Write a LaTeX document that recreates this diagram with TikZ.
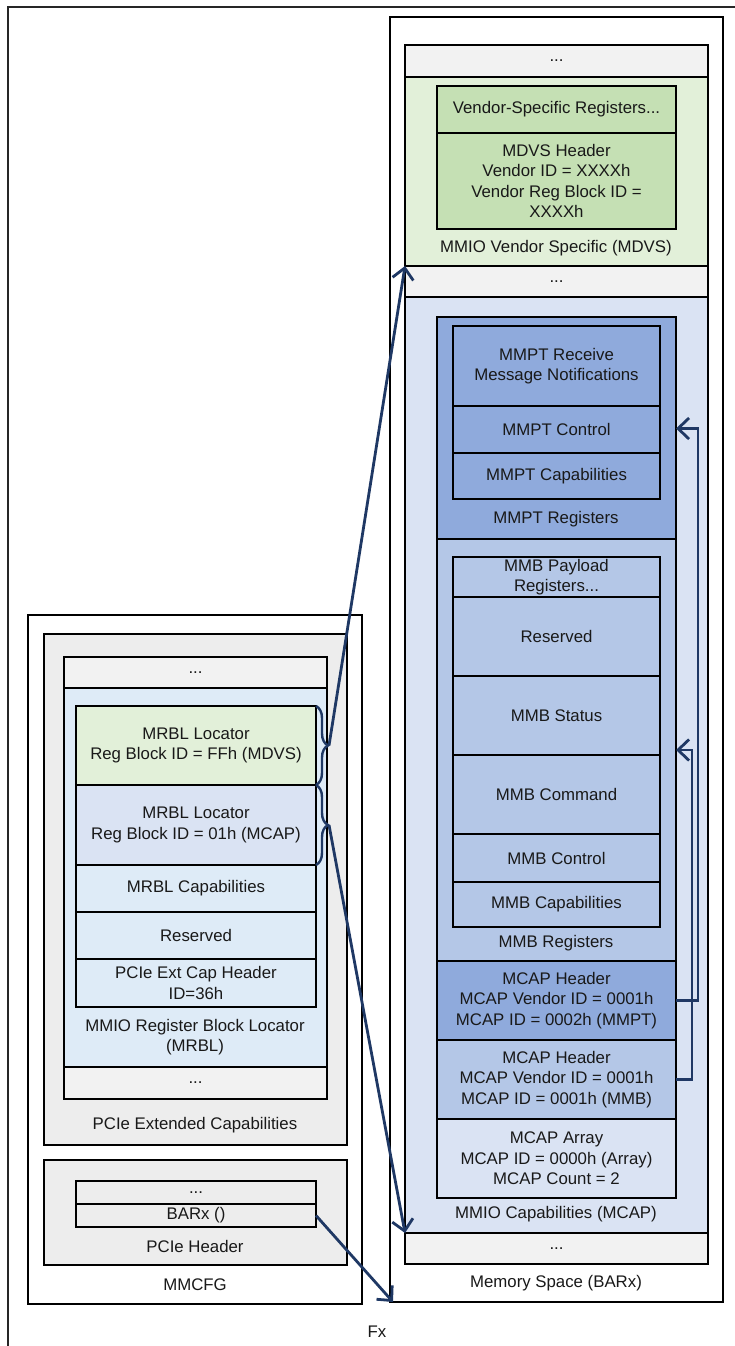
\documentclass[tikz,border=0pt]{standalone}
\usepackage{fontspec}
\setmainfont{Liberation Sans}
\usetikzlibrary{arrows.meta,calc,decorations.pathreplacing}
\definecolor{cdots}{HTML}{F2F2F2}
\definecolor{cext}{HTML}{EDEDED}
\definecolor{cgl}{HTML}{E2F0D9}
\definecolor{cg}{HTML}{C5E0B4}
\definecolor{cmcap}{HTML}{DAE3F3}
\definecolor{cmmpt}{HTML}{8FAADC}
\definecolor{cmmb}{HTML}{B4C7E7}
\definecolor{cmrbl}{HTML}{DEEBF7}
\definecolor{navy}{HTML}{1F3864}
\newcommand\fs{\fontsize{16.8}{20.5}\selectfont}
\newcommand\bx[7]{\node[box,#2,minimum width={(#5)-(#3)},minimum height={(#6)-(#4)}] (#1) at ({((#3)+(#5))/2},{-((#4)+(#6))/2}) {#7};}
\tikzset{
  box/.style={draw=black,line width=1.8pt,rectangle,inner sep=0pt,outer sep=0pt,align=center,font=\fs,text=black!90},
  lbl/.style={inner sep=0pt,align=center,font=\fs,text=black!90},
  conn/.style={draw=navy,line width=2.8pt,-{Straight Barb[length=11pt,width=21pt,line width=2.8pt]}},
  bracestyle/.style={draw=navy,line width=2.4pt,decorate,decoration={brace,amplitude=12pt}}
}
\begin{document}
\begin{tikzpicture}[x=1pt,y=1pt]
\useasboundingbox (0,0) rectangle (735,-1346);
% Fx frame
\draw[line width=1.6pt,black!85] (8,-1350) coordinate (fxa) -- (8,-7) coordinate (fxb) -- (740,-7) coordinate (fxc);
\node[lbl] (fx) at (377,-1332) {Fx};

% Memory space
\bx{memspace}{fill=white}{390}{17}{723}{1302}{}
\node[lbl] (memlbl) at (556,-1283) {Memory Space (BARx)};
\bx{topdots}{fill=cdots}{405}{45}{708}{77}{...}
\bx{mdvs}{fill=cgl}{405}{77}{708}{266}{}
\node[lbl] (mdvslbl) at (556,-248) {MMIO Vendor Specific (MDVS)};
\bx{vsr}{fill=cg}{437}{86}{676}{133}{Vendor-Specific Registers...}
\bx{mdvshdr}{fill=cg}{437}{133}{676}{229}{MDVS Header\\Vendor ID = XXXXh\\Vendor Reg Block ID =\\XXXXh}
\bx{dots2}{fill=cdots}{405}{266}{708}{297}{...}
\bx{mcap}{fill=cmcap}{405}{297}{708}{1233}{}
\node[lbl] (mcaplbl) at (556,-1214) {MMIO Capabilities (MCAP)};
\bx{mmpt}{fill=cmmpt}{437}{317}{676}{539}{}
\node[lbl] (mmptlbl) at (556,-519) {MMPT Registers};
\bx{mmptrx}{fill=cmmpt}{453}{326}{660}{406}{MMPT Receive\\Message Notifications}
\bx{mmptctl}{fill=cmmpt}{453}{406}{660}{453}{MMPT Control}
\bx{mmptcap}{fill=cmmpt}{453}{453}{660}{499}{MMPT Capabilities}
\bx{mmb}{fill=cmmb}{437}{539}{676}{961}{}
\node[lbl] (mmblbl) at (556,-943) {MMB Registers};
\bx{mmbpay}{fill=cmmb}{453}{557}{660}{597}{MMB Payload\\Registers...}
\bx{mmbres}{fill=cmmb}{453}{597}{660}{676}{Reserved}
\bx{mmbsts}{fill=cmmb}{453}{676}{660}{755}{MMB Status}
\bx{mmbcmd}{fill=cmmb}{453}{755}{660}{834}{MMB Command}
\bx{mmbctl}{fill=cmmb}{453}{834}{660}{882}{MMB Control}
\bx{mmbcap}{fill=cmmb}{453}{882}{660}{927}{MMB Capabilities}
\bx{hdrmmpt}{fill=cmmpt}{437}{961}{676}{1040}{MCAP Header\\MCAP Vendor ID = 0001h\\MCAP ID = 0002h (MMPT)}
\bx{hdrmmb}{fill=cmmb}{437}{1040}{676}{1119}{MCAP Header\\MCAP Vendor ID = 0001h\\MCAP ID = 0001h (MMB)}
\bx{arr}{fill=cmcap}{437}{1119}{676}{1198}{MCAP Array\\MCAP ID = 0000h (Array)\\MCAP Count = 2}
\bx{dots3}{fill=cdots}{405}{1233}{708}{1264}{...}

% MMCFG
\bx{mmcfg}{fill=white}{28}{615}{362}{1304}{}
\node[lbl] (mmcfglbl) at (195,-1285) {MMCFG};
\bx{pciext}{fill=cext}{44}{634}{347}{1145}{}
\node[lbl] (pciextlbl) at (195,-1125) {PCIe Extended Capabilities};
\bx{ldots1}{fill=cdots}{64}{657}{327}{688}{...}
\bx{mrbl}{fill=cmrbl}{64}{688}{327}{1067}{}
\node[lbl] (mrbllbl) at (195,-1037) {MMIO Register Block Locator\\(MRBL)};
\bx{loc1}{fill=cgl}{76}{706}{316}{785}{MRBL Locator\\Reg Block ID = FFh (MDVS)}
\bx{loc2}{fill=cmcap}{76}{785}{316}{865}{MRBL Locator\\Reg Block ID = 01h (MCAP)}
\bx{mrblcap}{fill=cmrbl}{76}{865}{316}{912}{MRBL Capabilities}
\bx{mrblres}{fill=cmrbl}{76}{912}{316}{959}{Reserved}
\bx{pcieh}{fill=cmrbl}{76}{959}{316}{1007}{PCIe Ext Cap Header\\ID=36h}
\bx{ldots2}{fill=cdots}{64}{1067}{327}{1099}{...}
\bx{pcihdr}{fill=cext}{44}{1160}{347}{1265}{}
\node[lbl] (pcihdrlbl) at (195,-1246) {PCIe Header};
\bx{hdots}{fill=cext}{76}{1181}{316}{1204}{...}
\bx{barx}{fill=cext}{76}{1204}{316}{1227}{BARx ()}

% braces
\draw[bracestyle] (loc1.north east) -- (loc1.south east);
\draw[bracestyle] (loc2.north east) -- (loc2.south east);
\coordinate (b1) at ($(loc1.east)+(13,0)$);
\coordinate (b2) at ($(loc2.east)+(13,0)$);

% connectors
\draw[conn] (b1) -- (mdvs.south west);
\draw[conn] (b2) -- (dots3.north west);
\draw[conn] (barx.east) -- ($(memspace.south west)+(3,0)$);
\coordinate (t1) at ($(mmpt.east |- mmptctl.east)+(0,1)$);
\coordinate (t2) at ($(mmb.east |- mmbsts.south east)+(0,5)$);
\draw[conn] (hdrmmpt.east) -- ++(22,0) |- (t1);
\draw[conn] (hdrmmb.east) -- ++(16,0) |- (t2);
\end{tikzpicture}
\end{document}
